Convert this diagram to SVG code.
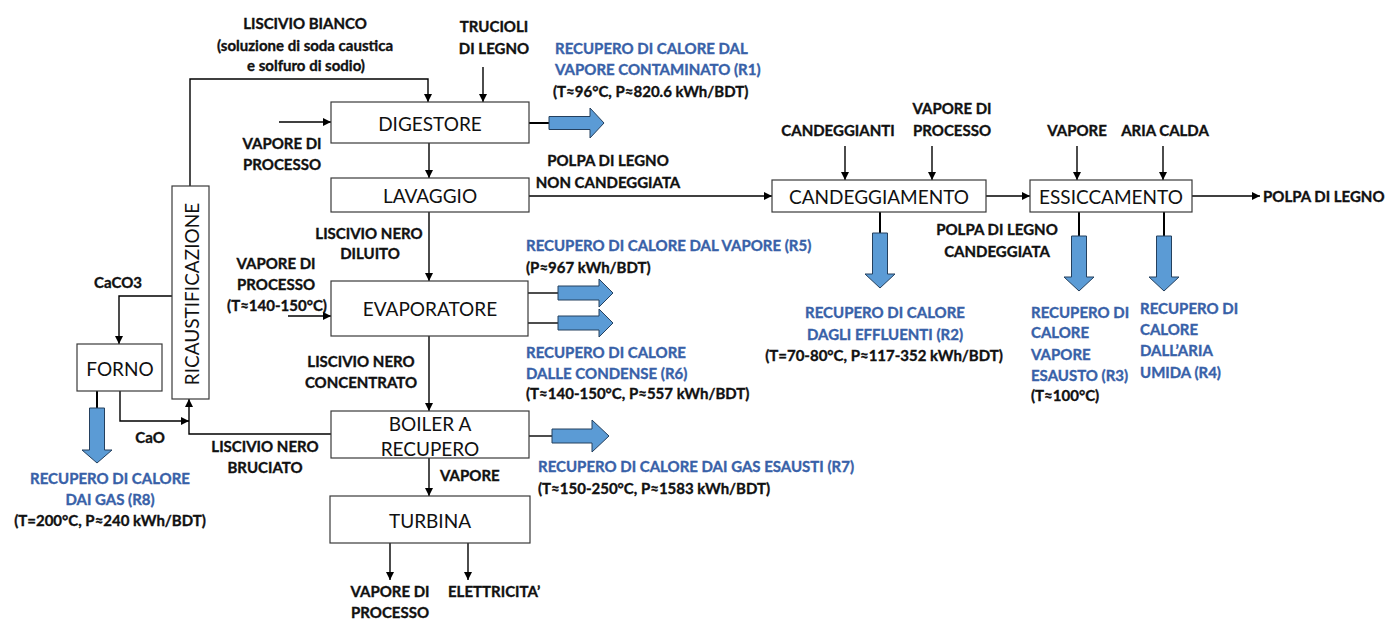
<svg xmlns="http://www.w3.org/2000/svg" width="1390" height="621" viewBox="0 0 1390 621">
<defs>
<style>
.box{fill:#fff;stroke:#3a3a3a;stroke-width:1.2}
.bt{font-family:Lato,"Liberation Sans",sans-serif;font-size:19px;fill:#111;text-anchor:middle;dominant-baseline:central}
.lb{font-family:Lato,"Liberation Sans",sans-serif;font-size:15px;font-weight:bold;fill:#111;stroke:#111;stroke-width:0.35;dominant-baseline:central}
.bl{fill:#3861a8;stroke:#3861a8}
.c{text-anchor:middle}
.ln{fill:none;stroke:#000;stroke-width:1.4}
.lnk{fill:none;stroke:#000;stroke-width:2}
.ba{fill:#5b9bd5;stroke:#24405e;stroke-width:1}
</style>
<marker id="ah" viewBox="0 0 10 10" refX="10" refY="5" markerWidth="8" markerHeight="8" markerUnits="userSpaceOnUse" orient="auto">
<path d="M0,0 L10,5 L0,10 z" fill="#000"/>
</marker>
</defs>
<rect width="1390" height="621" fill="#fff"/>

<g id="connectors">
<path class="ln" d="M190,186 V79 H428 V102" marker-end="url(#ah)"/>
<path class="ln" d="M483,67 V102" marker-end="url(#ah)"/>
<path class="ln" d="M279,122 H331" marker-end="url(#ah)"/>
<path class="ln" d="M429,143 V178" marker-end="url(#ah)"/>
<path class="ln" d="M529,196 H772" marker-end="url(#ah)"/>
<path class="ln" d="M845,146 V180" marker-end="url(#ah)"/>
<path class="ln" d="M932,146 V180" marker-end="url(#ah)"/>
<path class="ln" d="M986,196 H1030" marker-end="url(#ah)"/>
<path class="ln" d="M1077,146 V180" marker-end="url(#ah)"/>
<path class="ln" d="M1163,146 V180" marker-end="url(#ah)"/>
<path class="ln" d="M1192,196 H1260" marker-end="url(#ah)"/>
<path class="ln" d="M429,212 V281" marker-end="url(#ah)"/>
<path class="ln" d="M288,316 H331" marker-end="url(#ah)"/>
<path class="ln" d="M429,336 V411" marker-end="url(#ah)"/>
<path class="ln" d="M331,434 H189 V399" marker-end="url(#ah)"/>
<path class="ln" d="M172,296 H119 V344" marker-end="url(#ah)"/>
<path class="ln" d="M120,391 V421 H189" marker-end="url(#ah)"/>
<path class="ln" d="M429,458 V496" marker-end="url(#ah)"/>
<path class="ln" d="M390,543 V580" marker-end="url(#ah)"/>
<path class="ln" d="M468,543 V580" marker-end="url(#ah)"/>
<path class="lnk" d="M529,123 H549"/>
<path class="ln" d="M528,293 H558"/>
<path class="ln" d="M528,323 H558"/>
<path class="ln" d="M529,436 H552"/>
<path class="lnk" d="M97,391 V408"/>
<path class="lnk" d="M880,212 V233"/>
<path class="lnk" d="M1079,212 V236"/>
<path class="lnk" d="M1164,212 V236"/>
</g>

<g id="heat-arrows">
<path class="ba" d="M549,116.5 H590 V108 L604,123 L590,138 V129.5 H549 z"/>
<path class="ba" d="M558,286 H599 V279 L613,293 L599,307 V300 H558 z"/>
<path class="ba" d="M558,316 H599 V309 L613,323 L599,337 V330 H558 z"/>
<path class="ba" d="M552,429 H592 V420 L609,436 L592,452 V443 H552 z"/>
<path class="ba" d="M89.5,408 V450 H82 L97,463 L112,450 H104.5 V408 z"/>
<path class="ba" d="M872.5,233 V274 H865 L880,288 L895,274 H887.5 V233 z"/>
<path class="ba" d="M1071.5,236 V277 H1064 L1079,291 L1094,277 H1086.5 V236 z"/>
<path class="ba" d="M1156.5,236 V277 H1149 L1164,291 L1179,277 H1171.5 V236 z"/>
</g>

<g id="digestore"><rect class="box" x="331" y="102" width="198" height="41"/><text class="bt" x="430" y="123">DIGESTORE</text></g>
<g id="lavaggio"><rect class="box" x="331" y="178" width="198" height="34"/><text class="bt" x="430" y="195">LAVAGGIO</text></g>
<g id="evaporatore"><rect class="box" x="331" y="281" width="197" height="55"/><text class="bt" x="430" y="308">EVAPORATORE</text></g>
<g id="boiler"><rect class="box" x="331" y="411" width="198" height="47"/><text class="bt" x="430" y="423">BOILER A</text><text class="bt" x="430" y="448">RECUPERO</text></g>
<g id="turbina"><rect class="box" x="330" y="496" width="200" height="47"/><text class="bt" x="430" y="520">TURBINA</text></g>
<g id="ricaustificazione"><rect class="box" x="172" y="186" width="37" height="213"/><text class="bt" transform="translate(191,294) rotate(-90)" x="0" y="0">RICAUSTIFICAZIONE</text></g>
<g id="forno"><rect class="box" x="77" y="344" width="85" height="47"/><text class="bt" x="120" y="368">FORNO</text></g>
<g id="candeggiamento"><rect class="box" x="772" y="180" width="214" height="32"/><text class="bt" x="879" y="196">CANDEGGIAMENTO</text></g>
<g id="essiccamento"><rect class="box" x="1030" y="180" width="162" height="32"/><text class="bt" x="1111" y="196">ESSICCAMENTO</text></g>

<g id="labels">
<text class="lb c" x="305" y="23">LISCIVIO BIANCO</text>
<text class="lb c" x="305" y="45">(soluzione di soda caustica</text>
<text class="lb c" x="306" y="65">e solfuro di sodio)</text>
<text class="lb c" x="494" y="26">TRUCIOLI</text>
<text class="lb c" x="494" y="48">DI LEGNO</text>
<text class="lb c" x="282" y="143">VAPORE DI</text>
<text class="lb c" x="282" y="164">PROCESSO</text>
<text class="lb c" x="608" y="160">POLPA DI LEGNO</text>
<text class="lb c" x="608" y="182">NON CANDEGGIATA</text>
<text class="lb c" x="838" y="130">CANDEGGIANTI</text>
<text class="lb c" x="952" y="108">VAPORE DI</text>
<text class="lb c" x="952" y="130">PROCESSO</text>
<text class="lb c" x="1077" y="130">VAPORE</text>
<text class="lb c" x="1165" y="130">ARIA CALDA</text>
<text class="lb" x="1263" y="196">POLPA DI LEGNO</text>
<text class="lb c" x="997" y="229">POLPA DI LEGNO</text>
<text class="lb c" x="997" y="251">CANDEGGIATA</text>
<text class="lb c" x="369" y="233">LISCIVIO NERO</text>
<text class="lb c" x="370" y="253">DILUITO</text>
<text class="lb c" x="276" y="263">VAPORE DI</text>
<text class="lb c" x="276" y="284">PROCESSO</text>
<text class="lb c" x="277" y="305">(T≈140-150°C)</text>
<text class="lb c" x="361" y="361">LISCIVIO NERO</text>
<text class="lb c" x="361" y="382">CONCENTRATO</text>
<text class="lb c" x="118" y="282">CaCO3</text>
<text class="lb c" x="150" y="437">CaO</text>
<text class="lb c" x="265" y="446">LISCIVIO NERO</text>
<text class="lb c" x="265" y="467">BRUCIATO</text>
<text class="lb" x="440" y="475">VAPORE</text>
<text class="lb c" x="390" y="591">VAPORE DI</text>
<text class="lb c" x="390" y="612">PROCESSO</text>
<text class="lb" x="448" y="591">ELETTRICITA’</text>

<text class="lb bl" x="555" y="48">RECUPERO DI CALORE DAL</text>
<text class="lb bl" x="555" y="69">VAPORE CONTAMINATO (R1)</text>
<text class="lb" x="553" y="91">(T≈96°C, P≈820.6 kWh/BDT)</text>
<text class="lb bl" x="526" y="245">RECUPERO DI CALORE DAL VAPORE (R5)</text>
<text class="lb" x="526" y="267">(P≈967 kWh/BDT)</text>
<text class="lb bl" x="526" y="352">RECUPERO DI CALORE</text>
<text class="lb bl" x="526" y="373">DALLE CONDENSE (R6)</text>
<text class="lb" x="526" y="393">(T≈140-150°C, P≈557 kWh/BDT)</text>
<text class="lb bl" x="538" y="466">RECUPERO DI CALORE DAI GAS ESAUSTI (R7)</text>
<text class="lb" x="538" y="488">(T≈150-250°C, P≈1583 kWh/BDT)</text>
<text class="lb bl c" x="110" y="478">RECUPERO DI CALORE</text>
<text class="lb bl c" x="110" y="499">DAI GAS (R8)</text>
<text class="lb c" x="110" y="520">(T=200°C, P≈240 kWh/BDT)</text>
<text class="lb bl c" x="885" y="312">RECUPERO DI CALORE</text>
<text class="lb bl c" x="885" y="334">DAGLI EFFLUENTI (R2)</text>
<text class="lb c" x="884" y="355">(T=70-80°C, P≈117-352 kWh/BDT)</text>
<text class="lb bl" x="1031" y="312">RECUPERO DI</text>
<text class="lb bl" x="1031" y="332">CALORE</text>
<text class="lb bl" x="1031" y="354">VAPORE</text>
<text class="lb bl" x="1031" y="375">ESAUSTO (R3)</text>
<text class="lb" x="1031" y="395">(T≈100°C)</text>
<text class="lb bl" x="1140" y="308">RECUPERO DI</text>
<text class="lb bl" x="1140" y="329">CALORE</text>
<text class="lb bl" x="1140" y="350">DALL’ARIA</text>
<text class="lb bl" x="1140" y="372">UMIDA (R4)</text>
</g>
</svg>
